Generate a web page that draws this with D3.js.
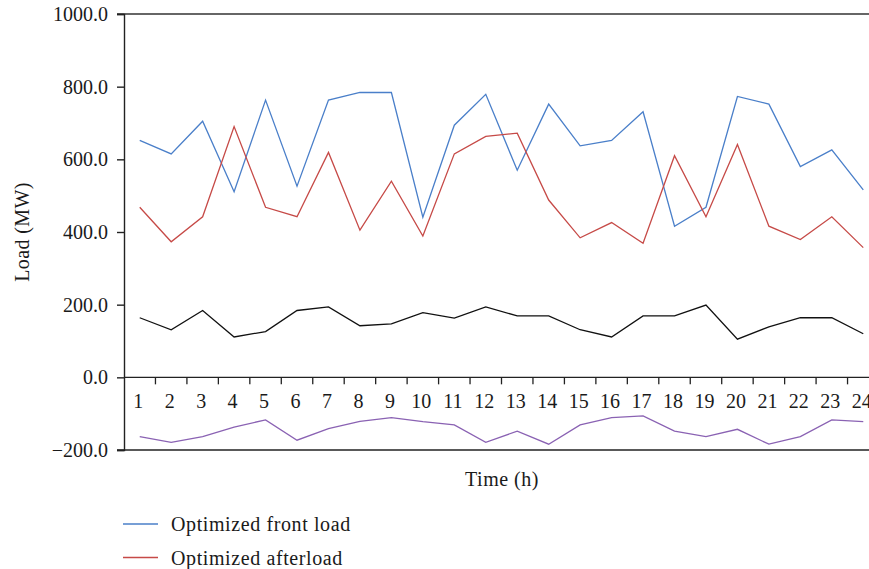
<!DOCTYPE html>
<html>
<head>
<meta charset="utf-8">
<script src="https://cdn.jsdelivr.net/npm/d3@7"></script>
<style>
  body { margin: 0; background: #fff; }
  text { font-family: "Liberation Serif", "Times New Roman", serif; fill: #1a1a1a; }
</style>
</head>
<body>
<div id="chart"></div>
<script>
var hours = d3.range(1, 25);
var yTicks = [-200, 0, 200, 400, 600, 800, 1000];

var frontLoad = [652, 615, 705, 511, 763, 526, 763, 784, 784, 441, 694, 779,
                 570, 752, 637, 652, 731, 416, 468, 773, 752, 580, 626, 516];
var afterLoad = [468, 373, 442, 690, 468, 442, 619, 405, 540, 389, 615, 663,
                 672, 488, 384, 426, 369, 610, 442, 641, 416, 379, 442, 357];
var blackLoad = [164, 131, 184, 111, 126, 184, 194, 142, 147, 178, 163, 194,
                 169, 169, 131, 111, 169, 169, 199, 105, 139, 164, 164, 120];
var purpleLoad = [-163, -179, -163, -137, -117, -173, -141, -121, -111, -122, -131, -179,
                  -148, -184, -131, -111, -106, -148, -163, -143, -184, -163, -117, -122];

var series = [
  {name: "Optimized front load", values: frontLoad, color: "#4a7fc9", legend: true},
  {name: "Optimized afterload", values: afterLoad, color: "#c64a47", legend: true},
  {name: "", values: blackLoad, color: "#111111", legend: false},
  {name: "", values: purpleLoad, color: "#8a62b3", legend: false}
];

var width = 869, height = 569;
var margin = {left: 124, top: 14, right: -10, bottom: 119};

var svg = d3.select("#chart").append("svg")
  .attr("width", width).attr("height", height);

var x = d3.scaleBand().domain(hours).range([margin.left, width - margin.right]);
var y = d3.scaleLinear().domain([-200, 1000]).range([height - margin.bottom, margin.top]);

var fontSize = "20px";

// frame lines at top and bottom
svg.append("line").attr("x1", margin.left - 7).attr("x2", width)
  .attr("y1", y(1000)).attr("y2", y(1000)).attr("stroke", "#333").attr("stroke-width", 1.4);
svg.append("line").attr("x1", margin.left - 7).attr("x2", width)
  .attr("y1", y(-200)).attr("y2", y(-200)).attr("stroke", "#222").attr("stroke-width", 1.4);

// y axis
var yAxis = d3.axisLeft(y).tickValues(yTicks).tickSize(7).tickPadding(9)
  .tickFormat(d3.format(".1f"));
var yg = svg.append("g").attr("transform", "translate(" + margin.left + ",0)").call(yAxis);
yg.select(".domain").attr("stroke", "#222").attr("stroke-width", 1.4);
yg.selectAll(".tick line").attr("stroke", "#222").attr("stroke-width", 1.4);
yg.selectAll(".tick text").style("font-size", fontSize).attr("fill", "#1a1a1a")
  .text(function(d){ return d < 0 ? "\u2212" + d3.format(".1f")(-d) : d3.format(".1f")(d); });

// x axis at y = 0, ticks at band boundaries
var xg = svg.append("g").attr("transform", "translate(0," + y(0) + ")");
xg.append("line").attr("x1", margin.left).attr("x2", width)
  .attr("stroke", "#222").attr("stroke-width", 1.4);
xg.selectAll(".xt").data(hours).enter().append("line")
  .attr("x1", function(d){ return x(d) + x.bandwidth(); })
  .attr("x2", function(d){ return x(d) + x.bandwidth(); })
  .attr("y1", 0).attr("y2", 7).attr("stroke", "#222").attr("stroke-width", 1.3);
xg.selectAll(".xl").data(hours).enter().append("text")
  .attr("x", function(d){ return x(d) + x.bandwidth() / 2 - 1.5; })
  .attr("y", 31).attr("text-anchor", "middle").style("font-size", fontSize)
  .text(function(d){ return d; });

// lines
var line = d3.line()
  .x(function(d, i){ return x(hours[i]) + x.bandwidth() / 2; })
  .y(function(d){ return y(d); });

series.forEach(function(s) {
  svg.append("path").attr("d", line(s.values)).attr("fill", "none")
    .attr("stroke", s.color).attr("stroke-width", 1.3);
});

// axis titles
svg.append("text").attr("transform", "translate(29,232) rotate(-90)")
  .attr("text-anchor", "middle").style("font-size", fontSize).style("letter-spacing", "0.4px")
  .text("Load (MW)");
svg.append("text").attr("x", 502).attr("y", 486)
  .attr("text-anchor", "middle").style("font-size", fontSize).style("letter-spacing", "0.5px")
  .text("Time (h)");

// legend
var legendItems = series.filter(function(s){ return s.legend; });
legendItems.forEach(function(s, i) {
  var ly = 524 + i * 33.5;
  svg.append("line").attr("x1", 123).attr("x2", 158).attr("y1", ly).attr("y2", ly)
    .attr("stroke", s.color).attr("stroke-width", 1.3);
  svg.append("text").attr("x", 171).attr("y", ly + 7).style("font-size", fontSize)
    .style("letter-spacing", "0.6px").text(s.name);
});
</script>
</body>
</html>
